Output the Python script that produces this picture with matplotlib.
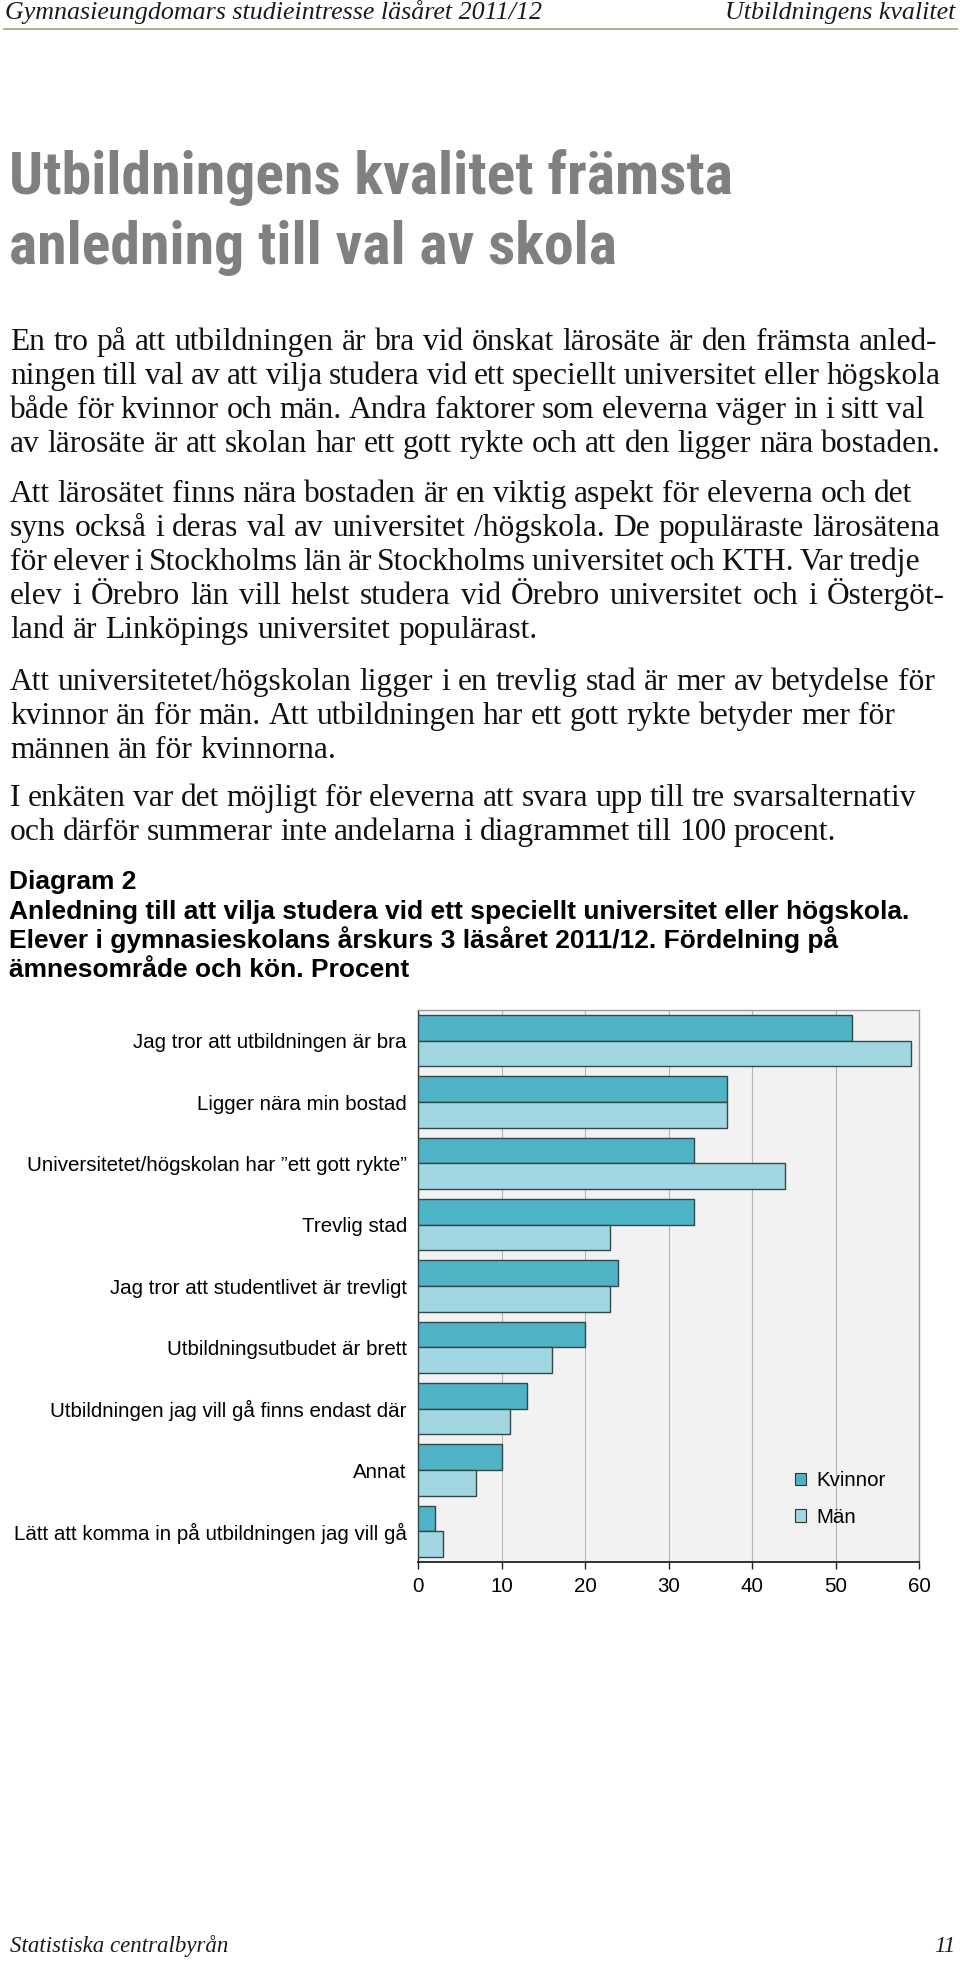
import os
import matplotlib
matplotlib.use('Agg')
import matplotlib.pyplot as plt
import numpy as np
from matplotlib import font_manager as fm
from matplotlib.font_manager import FontProperties
from matplotlib.lines import Line2D
from matplotlib.patches import Patch

# ---------------- data ----------------
categories = [
    "Jag tror att utbildningen är bra",
    "Ligger nära min bostad",
    "Universitetet/högskolan har \u201dett gott rykte\u201d",
    "Trevlig stad",
    "Jag tror att studentlivet är trevligt",
    "Utbildningsutbudet är brett",
    "Utbildningen jag vill gå finns endast där",
    "Annat",
    "Lätt att komma in på utbildningen jag vill gå",
]
kvinnor = [52, 37, 33, 33, 24, 20, 13, 10, 2]
man = [59, 37, 44, 23, 23, 16, 11, 7, 3]
series_names = ["Kvinnor", "Män"]
x_ticks = [0, 10, 20, 30, 40, 50, 60]

header_left = "Gymnasieungdomars studieintresse läsåret 2011/12"
header_right = "Utbildningens kvalitet"
title_lines = ["Utbildningens kvalitet främsta", "anledning till val av skola"]
body_lines = [
    "En tro på att utbildningen är bra vid önskat lärosäte är den främsta anled-",
    "ningen till val av att vilja studera vid ett speciellt universitet eller högskola",
    "både för kvinnor och män. Andra faktorer som eleverna väger in i sitt val",
    "av lärosäte är att skolan har ett gott rykte och att den ligger nära bostaden.",
    "Att lärosätet finns nära bostaden är en viktig aspekt för eleverna och det",
    "syns också i deras val av universitet /högskola. De populäraste lärosätena",
    "för elever i Stockholms län är Stockholms universitet och KTH. Var tredje",
    "elev i Örebro län vill helst studera vid Örebro universitet och i Östergöt-",
    "land är Linköpings universitet populärast.",
    "Att universitetet/högskolan ligger i en trevlig stad är mer av betydelse för",
    "kvinnor än för män. Att utbildningen har ett gott rykte betyder mer för",
    "männen än för kvinnorna.",
    "I enkäten var det möjligt för eleverna att svara upp till tre svarsalternativ",
    "och därför summerar inte andelarna i diagrammet till 100 procent.",
]
caption_lines = [
    "Diagram 2",
    "Anledning till att vilja studera vid ett speciellt universitet eller högskola.",
    "Elever i gymnasieskolans årskurs 3 läsåret 2011/12. Fördelning på",
    "ämnesområde och kön. Procent",
]
footer_left = "Statistiska centralbyrån"
footer_right = "11"

# ---------------- layout (pixels) ----------------
W, H = 960, 1967
body_base = [350, 384, 418, 452, 502, 536, 570, 604, 638, 690, 724, 758, 806, 840]
body_right = [937, 941, 925, 941, 912, 940, 920, 945, 538, 935, 895, 336, 916, 836]
cap_base = [889, 919, 948, 977]
cap_right = [130, 912, 846, 397]

fig = plt.figure(figsize=(W / 100, H / 100), dpi=100)
fig.patch.set_facecolor('white')
plt.rcParams['font.family'] = ['Liberation Sans', 'DejaVu Sans']


def fx(x):
    return x / W


def fy(y):
    return 1 - y / H


def find_file(names):
    files = {os.path.basename(f.fname).lower(): f.fname for f in fm.fontManager.ttflist}
    for n in names:
        if n.lower() in files:
            return files[n.lower()]
    return None


cond_bold = find_file([
    "LiberationSansNarrow-Bold.ttf",
    "RobotoCondensed-Bold.ttf",
    "NotoSans-CondensedBold.ttf",
    "OpenSans-CondensedBold.ttf",
    "OpenSansCondensed-Bold.ttf",
])
if cond_bold:
    title_fp = FontProperties(fname=cond_bold)
else:
    title_fp = FontProperties(family='Liberation Sans', weight='bold')

caption_fp = FontProperties(family='Liberation Sans', weight='bold')
serif_fp = FontProperties(family='Liberation Serif')
serif_it_fp = FontProperties(family='Liberation Serif', style='italic')

renderer = fig.canvas.get_renderer()


def width_of(s, fp, size):
    p = fp.copy()
    p.set_size(size)
    t = fig.text(0, 0, s, fontproperties=p)
    w = t.get_window_extent(renderer).width
    t.remove()
    return w


def calibrate(pairs, fp, s0=20.0):
    tn = sum(width_of(s, fp, s0) for s, _ in pairs)
    tt = sum(w for _, w in pairs)
    return s0 * tt / tn


def justified(s, x0, x1, base, fp, size, color):
    p = fp.copy()
    p.set_size(size)
    words = s.split(' ')
    arts = [fig.text(0, fy(base), w, fontproperties=p, color=color, va='baseline')
            for w in words]
    ws = [a.get_window_extent(renderer).width for a in arts]
    gap = (x1 - x0 - sum(ws)) / max(len(words) - 1, 1)
    x = x0
    for a, w in zip(arts, ws):
        a.set_x(fx(x))
        x += w + gap


# ---------------- header ----------------
hs = calibrate([(header_left, 537)], serif_it_fp)
hp = serif_it_fp.copy(); hp.set_size(hs)
fig.text(fx(5), fy(19), header_left, fontproperties=hp, va='baseline', color='#1a1a1a')
fig.text(fx(955), fy(19), header_right, fontproperties=hp, va='baseline', ha='right', color='#1a1a1a')
fig.add_artist(Line2D([fx(4), fx(957)], [fy(29), fy(29)], color='#a9ab82', lw=1.3))

# ---------------- title ----------------
ts = calibrate([(title_lines[0], 718), (title_lines[1], 612)], title_fp, 40)
tp = title_fp.copy(); tp.set_size(ts)
fig.text(fx(9), fy(194), title_lines[0], fontproperties=tp, color='#808080', va='baseline')
fig.text(fx(9), fy(264), title_lines[1], fontproperties=tp, color='#808080', va='baseline')

# ---------------- body ----------------
bs = calibrate([(s, r - 10) for s, r in zip(body_lines, body_right)], serif_fp, 16)
for s, b, r in zip(body_lines, body_base, body_right):
    justified(s, 10, r, b, serif_fp, bs, '#111111')

# ---------------- caption ----------------
cs = calibrate([(s, r - 9) for s, r in zip(caption_lines, cap_right)], caption_fp, 16)
cp = caption_fp.copy(); cp.set_size(cs)
for s, b in zip(caption_lines, cap_base):
    fig.text(fx(9), fy(b), s, fontproperties=cp, color='black', va='baseline')

# ---------------- chart ----------------
ax = fig.add_axes([fx(418), fy(1562), (919 - 418) / W, (1562 - 1010) / H])
ax.set_facecolor('#f2f2f2')
y = np.arange(len(categories))
bh = 0.418
edge = '#34474c'
c_k = '#4fb3c6'
c_m = '#a2d6e1'
ax.barh(y - bh / 2, kvinnor, height=bh, color=c_k, edgecolor=edge, linewidth=1.0,
        label=series_names[0], zorder=3)
ax.barh(y + bh / 2, man, height=bh, color=c_m, edgecolor=edge, linewidth=1.0,
        label=series_names[1], zorder=3)
ax.set_xlim(x_ticks[0], x_ticks[-1])
ax.set_ylim(len(categories) - 0.5, -0.5)
ax.set_xticks(x_ticks)
ax.set_xticklabels([str(v) for v in x_ticks])
ax.set_yticks(y)
ax.set_yticklabels(categories)
ax.tick_params(axis='y', length=0, pad=8, labelsize=14.8, labelcolor='black')
ax.tick_params(axis='x', length=5, width=1, pad=6, labelsize=14.8, direction='out',
               color='#222222', labelcolor='black')
ax.grid(axis='x', color='#b5b5b5', lw=0.8, zorder=0)
ax.set_axisbelow(True)
ax.spines['left'].set_color('#333333')
ax.spines['left'].set_linewidth(1.0)
ax.spines['bottom'].set_color('#222222')
ax.spines['bottom'].set_linewidth(1.3)
for sp in ('top', 'right'):
    ax.spines[sp].set_color('#9a9a9a')
    ax.spines[sp].set_linewidth(1.0)

handles = [Patch(facecolor=c_k, edgecolor='#333333', lw=0.8, label=series_names[0]),
           Patch(facecolor=c_m, edgecolor='#333333', lw=0.8, label=series_names[1])]
ax.legend(handles=handles, loc='upper left', bbox_to_anchor=(fx(795), fy(1471)),
          bbox_transform=fig.transFigure, frameon=False, fontsize=14.8,
          handlelength=0.55, handleheight=0.55, handletextpad=0.5,
          labelspacing=0.87, borderpad=0, borderaxespad=0)

# ---------------- footer ----------------
fs = calibrate([(footer_left, 218)], serif_it_fp)
fp_ = serif_it_fp.copy(); fp_.set_size(fs)
fig.text(fx(10), fy(1952), footer_left, fontproperties=fp_, va='baseline', color='#1a1a1a')
fig.text(fx(955), fy(1952), footer_right, fontproperties=fp_, va='baseline', ha='right', color='#1a1a1a')

fig.savefig('out.png', dpi=100, facecolor='white')
